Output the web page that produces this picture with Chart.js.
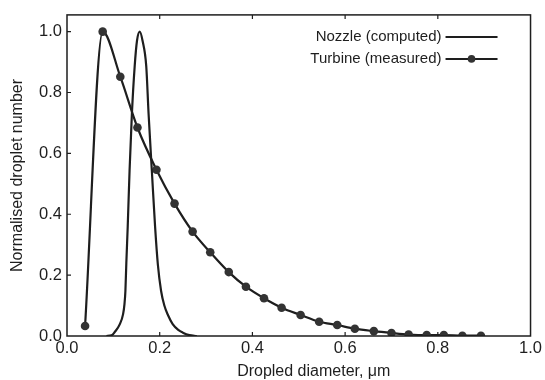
<!DOCTYPE html>
<html>
<head>
<meta charset="utf-8">
<title>Droplet size distribution</title>
<script src="https://cdn.jsdelivr.net/npm/chart.js@4/dist/chart.umd.min.js"></script>
<style>
    html, body { margin: 0; padding: 0; background: #fff; }
    #chart { display: block; }
</style>
</head>
<body>
<canvas id="chart" width="545" height="380"></canvas>
<script>
    // --- DATA ---
    const nozzleX = [0.085, 0.096, 0.103, 0.114, 0.121, 0.124, 0.126, 0.128, 0.131, 0.135, 0.140, 0.146, 0.151, 0.157,
        0.163, 0.171, 0.176, 0.183, 0.190, 0.196, 0.203, 0.210, 0.218, 0.228, 0.240, 0.250, 0.264, 0.280];
    const nozzleY = [0.0, 0.002, 0.013, 0.039, 0.072, 0.105, 0.148, 0.24, 0.36, 0.544, 0.73, 0.886, 0.97, 1.0,
        0.97, 0.886, 0.73, 0.544, 0.36, 0.235, 0.148, 0.10, 0.068, 0.039, 0.02, 0.011, 0.003, 0.0];

    const turbineX = [0.039, 0.077, 0.115, 0.152, 0.193, 0.232, 0.271, 0.309, 0.349, 0.386, 0.425, 0.463,
        0.504, 0.544, 0.583, 0.621, 0.662, 0.700, 0.737, 0.776, 0.813, 0.853, 0.893];
    const turbineY = [0.033, 1.0, 0.852, 0.685, 0.546, 0.435, 0.343, 0.275, 0.21, 0.162, 0.124, 0.093,
        0.069, 0.047, 0.036, 0.024, 0.016, 0.01, 0.005, 0.003, 0.003, 0.001, 0.001];

    const xTicks = [0.0, 0.2, 0.4, 0.6, 0.8, 1.0];
    const yTicks = [0.0, 0.2, 0.4, 0.6, 0.8, 1.0];

    const seriesLabels = ['Nozzle (computed)', 'Turbine (measured)'];
    const xTitle = 'Dropled diameter, \u03bcm';
    const yTitle = 'Normalised droplet number';

    const INK = '#1e1e1e';
    const FAMILY = "'Liberation Sans', Arial, sans-serif";
    const TICK_FONT = { family: FAMILY, size: 16.5 };
    const TITLE_FONT = { family: FAMILY, size: 16 };
    const LEGEND_SIZE = 15;

    const toPoints = (xs, ys) => xs.map((x, i) => ({ x: x, y: ys[i] }));

    // frame, inward ticks, x title and the text-then-sample legend
    const framePlugin = {
        id: 'frame',
        afterDraw(chart) {
            const { ctx, chartArea: a, scales } = chart;
            const tick = 4;
            ctx.save();
            ctx.strokeStyle = INK;
            ctx.lineWidth = 1.5;
            ctx.strokeRect(a.left, a.top, a.right - a.left, a.bottom - a.top);

            ctx.lineWidth = 1.2;
            ctx.beginPath();
            xTicks.slice(1, -1).forEach(v => {
                const px = scales.x.getPixelForValue(v);
                ctx.moveTo(px, a.bottom); ctx.lineTo(px, a.bottom - tick);
                ctx.moveTo(px, a.top); ctx.lineTo(px, a.top + tick);
            });
            yTicks.slice(1).forEach(v => {
                const py = scales.y.getPixelForValue(v);
                ctx.moveTo(a.left, py); ctx.lineTo(a.left + tick, py);
            });
            ctx.stroke();

            // x axis title
            ctx.fillStyle = INK;
            ctx.font = `${TITLE_FONT.size}px ${FAMILY}`;
            ctx.textAlign = 'center';
            ctx.textBaseline = 'middle';
            ctx.fillText(xTitle, (a.left + a.right) / 2 + 15, a.bottom + 36);

            // legend: label on the left, line sample on the right
            ctx.font = `${LEGEND_SIZE}px ${FAMILY}`;
            ctx.textAlign = 'right';
            chart.data.datasets.forEach((ds, i) => {
                const y = a.top + 22 + i * 22;
                const textEnd = a.right - 89;
                ctx.fillText(ds.label, textEnd, y);
                ctx.strokeStyle = INK;
                ctx.lineWidth = 2;
                ctx.beginPath();
                ctx.moveTo(textEnd + 4, y);
                ctx.lineTo(textEnd + 56, y);
                ctx.stroke();
                if (ds.pointRadius > 0) {
                    ctx.fillStyle = ds.pointBackgroundColor;
                    ctx.beginPath();
                    ctx.arc(textEnd + 30, y, ds.pointRadius - 0.5, 0, Math.PI * 2);
                    ctx.fill();
                    ctx.fillStyle = INK;
                }
            });
            ctx.restore();
        }
    };

    new Chart(document.getElementById('chart'), {
        type: 'line',
        data: {
            datasets: [
                {
                    label: seriesLabels[0],
                    data: toPoints(nozzleX, nozzleY),
                    borderColor: INK,
                    borderWidth: 2.2,
                    pointRadius: 0,
                    cubicInterpolationMode: 'monotone',
                    fill: false
                },
                {
                    label: seriesLabels[1],
                    data: toPoints(turbineX, turbineY),
                    borderColor: INK,
                    borderWidth: 2.2,
                    pointRadius: 4.3,
                    pointBackgroundColor: '#333',
                    pointBorderWidth: 0,
                    cubicInterpolationMode: 'monotone',
                    fill: false
                }
            ]
        },
        options: {
            responsive: false,
            animation: false,
            events: [],
            layout: { padding: { top: 12, right: 12, left: 0, bottom: 0 } },
            plugins: {
                legend: { display: false },
                tooltip: { enabled: false }
            },
            scales: {
                x: {
                    type: 'linear',
                    min: 0,
                    max: 1.0,
                    afterBuildTicks: (s) => { s.ticks = xTicks.map(v => ({ value: v })); },
                    afterFit: (s) => { s.height = 44; },
                    grid: { display: false, drawTicks: false },
                    border: { display: false },
                    ticks: {
                        color: INK,
                        font: TICK_FONT,
                        padding: 3,
                        maxRotation: 0,
                        callback: (v) => v.toFixed(1)
                    }
                },
                y: {
                    type: 'linear',
                    min: 0,
                    max: 1.055,
                    afterBuildTicks: (s) => { s.ticks = yTicks.map(v => ({ value: v })); },
                    afterFit: (s) => { s.width = 67; },
                    grid: { display: false, drawTicks: false },
                    border: { display: false },
                    title: {
                        display: true,
                        text: yTitle,
                        color: INK,
                        font: TITLE_FONT,
                        padding: { top: 8, bottom: 0 }
                    },
                    ticks: {
                        color: INK,
                        font: TICK_FONT,
                        padding: 5,
                        callback: (v) => v.toFixed(1)
                    }
                }
            }
        },
        plugins: [framePlugin]
    });
</script>
</body>
</html>
